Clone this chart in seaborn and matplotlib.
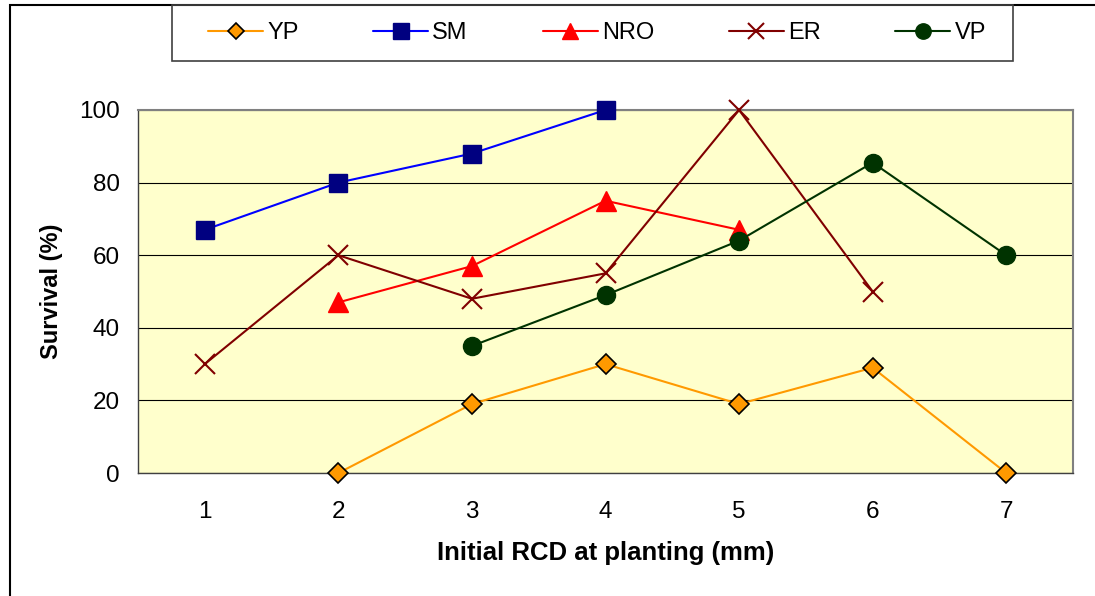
import matplotlib
matplotlib.use("Agg")
import matplotlib.pyplot as plt
import seaborn as sns
import pandas as pd
import numpy as np
from matplotlib.lines import Line2D
from matplotlib.patches import Rectangle

sns.set_style("white")
plt.rcParams['font.family'] = ['Liberation Sans', 'DejaVu Sans']
plt.rcParams['text.color'] = 'black'
plt.rcParams['axes.labelcolor'] = 'black'
plt.rcParams['xtick.labelcolor'] = 'black'
plt.rcParams['ytick.labelcolor'] = 'black'

rcd = [1, 2, 3, 4, 5, 6, 7]
yp = [None, 0, 19, 30, 19, 29, 0]
sm = [67, 80, 88, 100, None, None, None]
nro = [None, 47, 57, 75, 67, None, None]
er = [30, 60, 48, 55, 100, 50, None]
vp = [None, None, 35, 49, 64, 85.5, 60]

series = {"YP": yp, "SM": sm, "NRO": nro, "ER": er, "VP": vp}
styles = {
    "YP": dict(color="#FF9900", marker="D", mfc="#FF9900", mec="black", ms=10, mew=1.2),
    "SM": dict(color="#0000FF", marker="s", mfc="#000080", mec="#000080", ms=13, mew=1),
    "NRO": dict(color="#FF0000", marker="^", mfc="#FF0000", mec="#FF0000", ms=14, mew=1),
    "ER": dict(color="#800000", marker="x", mfc="#800000", mec="#800000", ms=14, mew=1.5),
    "VP": dict(color="#003300", marker="o", mfc="#003300", mec="#003300", ms=13, mew=1),
}

fig = plt.figure(figsize=(10.95, 5.96), dpi=100)
ax = fig.add_axes([138/1095, 1-473/596, (1073-138)/1095, (473-110)/596])
ax.set_facecolor("#FFFFCC")

for name, vals in series.items():
    df = pd.DataFrame({"x": rcd, "y": vals}).dropna()
    st = styles[name]
    sns.lineplot(data=df, x="x", y="y", ax=ax, color=st["color"], lw=1.5,
                 marker=st["marker"], markersize=st["ms"],
                 markerfacecolor=st["mfc"], markeredgecolor=st["mec"],
                 markeredgewidth=st["mew"], clip_on=False, zorder=3)

ax.set_xlim(0.5, 7.5)
ax.set_ylim(0, 100)
ax.set_yticks([0, 20, 40, 60, 80, 100])
ax.set_xticks(rcd)
ax.set_xticks(np.arange(0.5, 8, 1), minor=True)
ax.tick_params(axis="x", which="major", length=0, labelsize=17.5, pad=20, labelcolor="black")
ax.tick_params(axis="x", which="minor", length=6, color="#808080", width=1, direction="out")
ax.tick_params(axis="y", length=6, color="#404040", width=1, labelsize=17.5, direction="out",
               pad=7, labelcolor="black")
ax.yaxis.grid(True, color="black", lw=0.8)
ax.set_axisbelow(True)
for s in ax.spines.values():
    s.set_visible(True)
    s.set_color("#808080")
    s.set_linewidth(1.5)
ax.spines["left"].set_color("#404040")
ax.spines["left"].set_linewidth(1)
ax.spines["bottom"].set_color("#404040")
ax.spines["bottom"].set_linewidth(1)

ax.set_xlabel("Initial RCD at planting (mm)", fontsize=18.5, fontweight="bold", labelpad=13,
              color="black")
ax.set_ylabel("Survival (%)", fontsize=17, fontweight="bold", labelpad=12, color="black")

handles = []
for name in series:
    st = styles[name]
    handles.append(Line2D([], [], color=st["color"], lw=1.5, marker=st["marker"],
                          markersize=st["ms"]*0.85, markerfacecolor=st["mfc"],
                          markeredgecolor=st["mec"], markeredgewidth=st["mew"]))
leg = fig.legend(handles, list(series.keys()), loc="center left", ncol=5,
                 bbox_to_anchor=(208/1095, 1-33/596),
                 fontsize=17, frameon=False, labelcolor="black",
                 handlelength=2.33, handletextpad=0.17, borderaxespad=0,
                 columnspacing=3.17, borderpad=0)

# legend frame
fig.add_artist(Rectangle((172/1095, 1-61/596), (1013-172)/1095, 56/596,
                         transform=fig.transFigure, fill=False,
                         edgecolor="#404040", lw=1.2, zorder=1))

# outer chart frame
fig.add_artist(Rectangle((9.5/1095, -0.1), 1.2, 1.1 - 5/596, transform=fig.transFigure,
                         fill=False, edgecolor="black", lw=1.5, zorder=0))

fig.savefig("out.png", dpi=100, facecolor="white")
